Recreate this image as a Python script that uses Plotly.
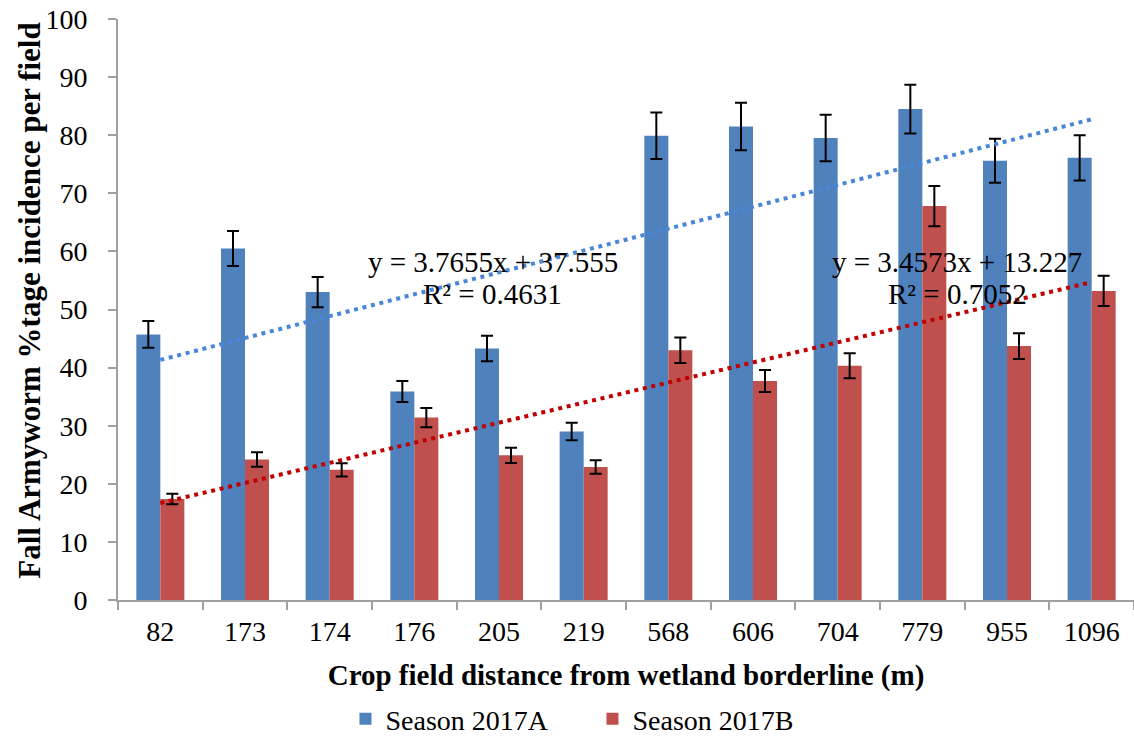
import plotly.graph_objects as go

categories = ["82", "173", "174", "176", "205", "219", "568", "606", "704", "779", "955", "1096"]
season_a = [45.7, 60.5, 53.0, 35.9, 43.3, 29.0, 79.9, 81.5, 79.5, 84.5, 75.6, 76.1]
season_a_err = [2.3, 3.0, 2.6, 1.8, 2.2, 1.5, 4.0, 4.1, 4.0, 4.2, 3.8, 3.9]
season_b = [17.4, 24.2, 22.4, 31.4, 24.9, 22.9, 43.0, 37.7, 40.3, 67.8, 43.7, 53.2]
season_b_err = [0.9, 1.25, 1.15, 1.65, 1.3, 1.15, 2.2, 1.9, 2.15, 3.45, 2.2, 2.6]
series_names = ["Season 2017A", "Season 2017B"]
trend_slope = [3.7655, 3.4573]
trend_intercept = [37.555, 13.227]
trend_labels = [["y = 3.7655x + 37.555", "R² = 0.4631"], ["y = 3.4573x + 13.227", "R² = 0.7052"]]
x_title = "Crop field distance from wetland borderline (m)"
y_title = "Fall Armyworm %tage incidence per field"

FONT = "Liberation Serif, Times New Roman, serif"
bar_colors = ["#4F81BD", "#C0504D"]
trend_colors = ["#4A86D8", "#C00000"]

fig = go.Figure()
for name, vals, errs, col in zip(series_names, [season_a, season_b], [season_a_err, season_b_err], bar_colors):
    fig.add_trace(go.Bar(
        x=categories, y=vals, name=name,
        marker=dict(color=col, line=dict(width=0)),
        error_y=dict(type="data", array=errs, visible=True, color="black", thickness=2, width=6),
    ))

# linear trendlines (Excel style, x = 1..n)
n = len(categories)
for slope, icpt, col in zip(trend_slope, trend_intercept, trend_colors):
    ends = [categories[0], categories[-1]]
    yv = [slope * 1 + icpt, slope * n + icpt]
    fig.add_trace(go.Scatter(
        x=ends, y=yv, mode="lines", showlegend=False, hoverinfo="skip",
        line=dict(color=col, width=4, dash="4px,4.7px"),
    ))

ann_x = [0.369, 0.826]
for px, lines in zip(ann_x, trend_labels):
    fig.add_annotation(x=px, xref="paper", y=58.1, yref="y", text=lines[0], showarrow=False,
                       font=dict(family=FONT, size=29, color="black"), xanchor="center", yanchor="middle")
    fig.add_annotation(x=px, xref="paper", y=52.6, yref="y", text=lines[1], showarrow=False,
                       font=dict(family=FONT, size=29, color="black"), xanchor="center", yanchor="middle")

# y-axis title as rotated annotation
fig.add_annotation(x=-0.0866, xref="paper", y=0.515, yref="paper", text="<b>" + y_title + "</b>",
                   textangle=-90, showarrow=False, xanchor="center", yanchor="middle",
                   font=dict(family=FONT, size=31, color="black"))

fig.update_layout(
    width=1134, height=737,
    margin=dict(l=118, r=0, t=19, b=137, autoexpand=False),
    paper_bgcolor="white", plot_bgcolor="white",
    barmode="group", bargap=0.433, bargroupgap=0,
    font=dict(family=FONT, size=28, color="black"),
    showlegend=True,
    legend=dict(orientation="h", x=0.467, xanchor="center", y=-0.205, yanchor="middle",
                font=dict(family=FONT, size=28, color="black"), entrywidth=202, entrywidthmode="pixels"),
    xaxis=dict(type="category", showline=True, linecolor="#A0A0A0", linewidth=2,
               ticks="outside", ticklen=8, tickcolor="#A0A0A0", tickwidth=2,
               tickson="boundaries", showgrid=False, zeroline=False, ticklabelstandoff=5,
               tickfont=dict(family=FONT, size=28),
               title=dict(text="<b>" + x_title + "</b>",
                          font=dict(family=FONT, size=29), standoff=19)),
    yaxis=dict(range=[0, 100], dtick=10, showline=True, linecolor="#A0A0A0", linewidth=2,
               ticks="outside", ticklen=8, tickcolor="#A0A0A0", tickwidth=2,
               showgrid=False, zeroline=False, ticklabelstandoff=15,
               tickfont=dict(family=FONT, size=28)),
)

fig.write_html("out.html", config={"displayModeBar": False},
               post_script="document.body.style.margin='0';document.body.style.overflow='hidden';")
